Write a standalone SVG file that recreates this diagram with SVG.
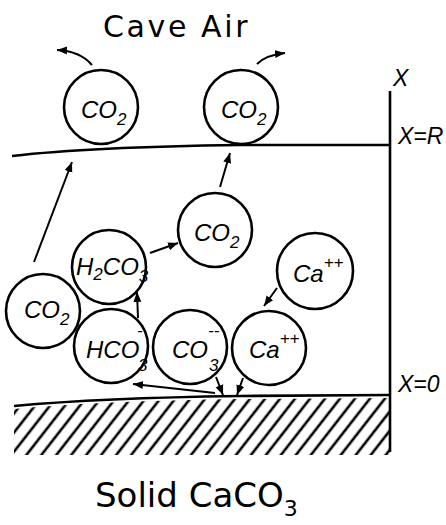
<svg xmlns="http://www.w3.org/2000/svg" width="446" height="525" viewBox="0 0 446 525">
<style>
.c{fill:none;stroke:#000;stroke-width:2.6}
.ln{fill:none;stroke:#000;stroke-width:2.6}
.ar{fill:none;stroke:#000;stroke-width:2;marker-end:url(#ah)}
.lb{font-family:"Liberation Sans",Arial,sans-serif;font-style:italic;font-size:24px;fill:#000}
.sb{font-size:17px}
.ax{font-family:"Liberation Sans",Arial,sans-serif;font-style:italic;font-size:23px;fill:#000}
.tt{font-family:"DejaVu Sans",Verdana,sans-serif;fill:#000}
</style>
<defs>
<marker id="ah" markerUnits="userSpaceOnUse" markerWidth="12" markerHeight="10" refX="10" refY="5" orient="auto">
<path d="M0,1 L10,5 L0,9 Z" fill="#000"/>
</marker>
<pattern id="hatch" patternUnits="userSpaceOnUse" width="11.8" height="12" patternTransform="rotate(38)">
<line x1="5.9" y1="0" x2="5.9" y2="12" stroke="#000" stroke-width="2.6"/>
</pattern>
</defs>
<rect width="446" height="525" fill="#fff"/>

<text class="tt" x="103" y="37" font-size="30" letter-spacing="2.6">Cave Air</text>
<text class="tt" x="95" y="507" font-size="34">Solid CaCO<tspan dy="9" font-size="22">3</tspan></text>

<g id="frame">
<path class="ln" d="M12,156 Q90,147 240,145 L390,145"/>
<path class="ln" d="M390,91 L390,452"/>
<path class="ln" d="M14,406 Q100,398 240,396 L390,395"/>
<path d="M14,409 Q100,401 240,399 L390,398 L390,455 L14,455 Z" fill="url(#hatch)"/>
<text class="ax" x="393" y="86">X</text>
<text class="ax" x="398" y="144">X=R</text>
<text class="ax" x="398" y="392">X=0</text>
</g>

<g id="co2-air-left">
<circle class="c" cx="101" cy="107" r="37"/>
<text class="lb" x="81" y="118">CO<tspan class="sb" dy="7">2</tspan></text>
</g>
<g id="co2-air-right">
<circle class="c" cx="241" cy="107" r="37"/>
<text class="lb" x="221" y="118">CO<tspan class="sb" dy="7">2</tspan></text>
</g>
<g id="co2-mid">
<circle class="c" cx="215" cy="230" r="37"/>
<text class="lb" x="194" y="241">CO<tspan class="sb" dy="7">2</tspan></text>
</g>
<g id="h2co3">
<circle class="c" cx="109" cy="267" r="37"/>
<text class="lb" x="76" y="275" font-size="22">H<tspan class="sb" dy="5">2</tspan><tspan dy="-5">CO</tspan><tspan class="sb" dy="7">3</tspan></text>
</g>
<g id="co2-left">
<circle class="c" cx="43" cy="311" r="37"/>
<text class="lb" x="24" y="318">CO<tspan class="sb" dy="7">2</tspan></text>
</g>
<g id="ca-upper">
<circle class="c" cx="315" cy="271" r="38"/>
<text class="lb" x="293" y="282">Ca<tspan class="sb" dy="-14">++</tspan></text>
</g>
<g id="hco3">
<circle class="c" cx="111" cy="346" r="37"/>
<text class="lb" x="86" y="358">HCO<tspan class="sb" x="137" y="336">-</tspan><tspan class="sb" x="138" y="371">3</tspan></text>
</g>
<g id="co3">
<circle class="c" cx="190" cy="347" r="37"/>
<text class="lb" x="172" y="358">CO<tspan class="sb" x="208" y="336">--</tspan><tspan class="sb" x="209" y="371">3</tspan></text>
</g>
<g id="ca-lower">
<circle class="c" cx="269" cy="348" r="37"/>
<text class="lb" x="249" y="358">Ca<tspan class="sb" dy="-14">++</tspan></text>
</g>

<g id="connectors">
<path class="ar" d="M92,65 Q80,51 57,50"/>
<path class="ar" d="M257,64 Q266,55 285,53"/>
<path class="ar" d="M34,262 L72,162"/>
<path class="ar" d="M220,187 L230,153"/>
<path class="ar" d="M150,253 L178,243"/>
<path class="ar" d="M138,318 L137,292"/>
<path class="ar" d="M277,288 L264,306"/>
<path class="ar" d="M215,393 L133,384"/>
<path class="ar" d="M216,377 L223,395"/>
<path class="ar" d="M243,378 L237,395"/>
</g>
</svg>
